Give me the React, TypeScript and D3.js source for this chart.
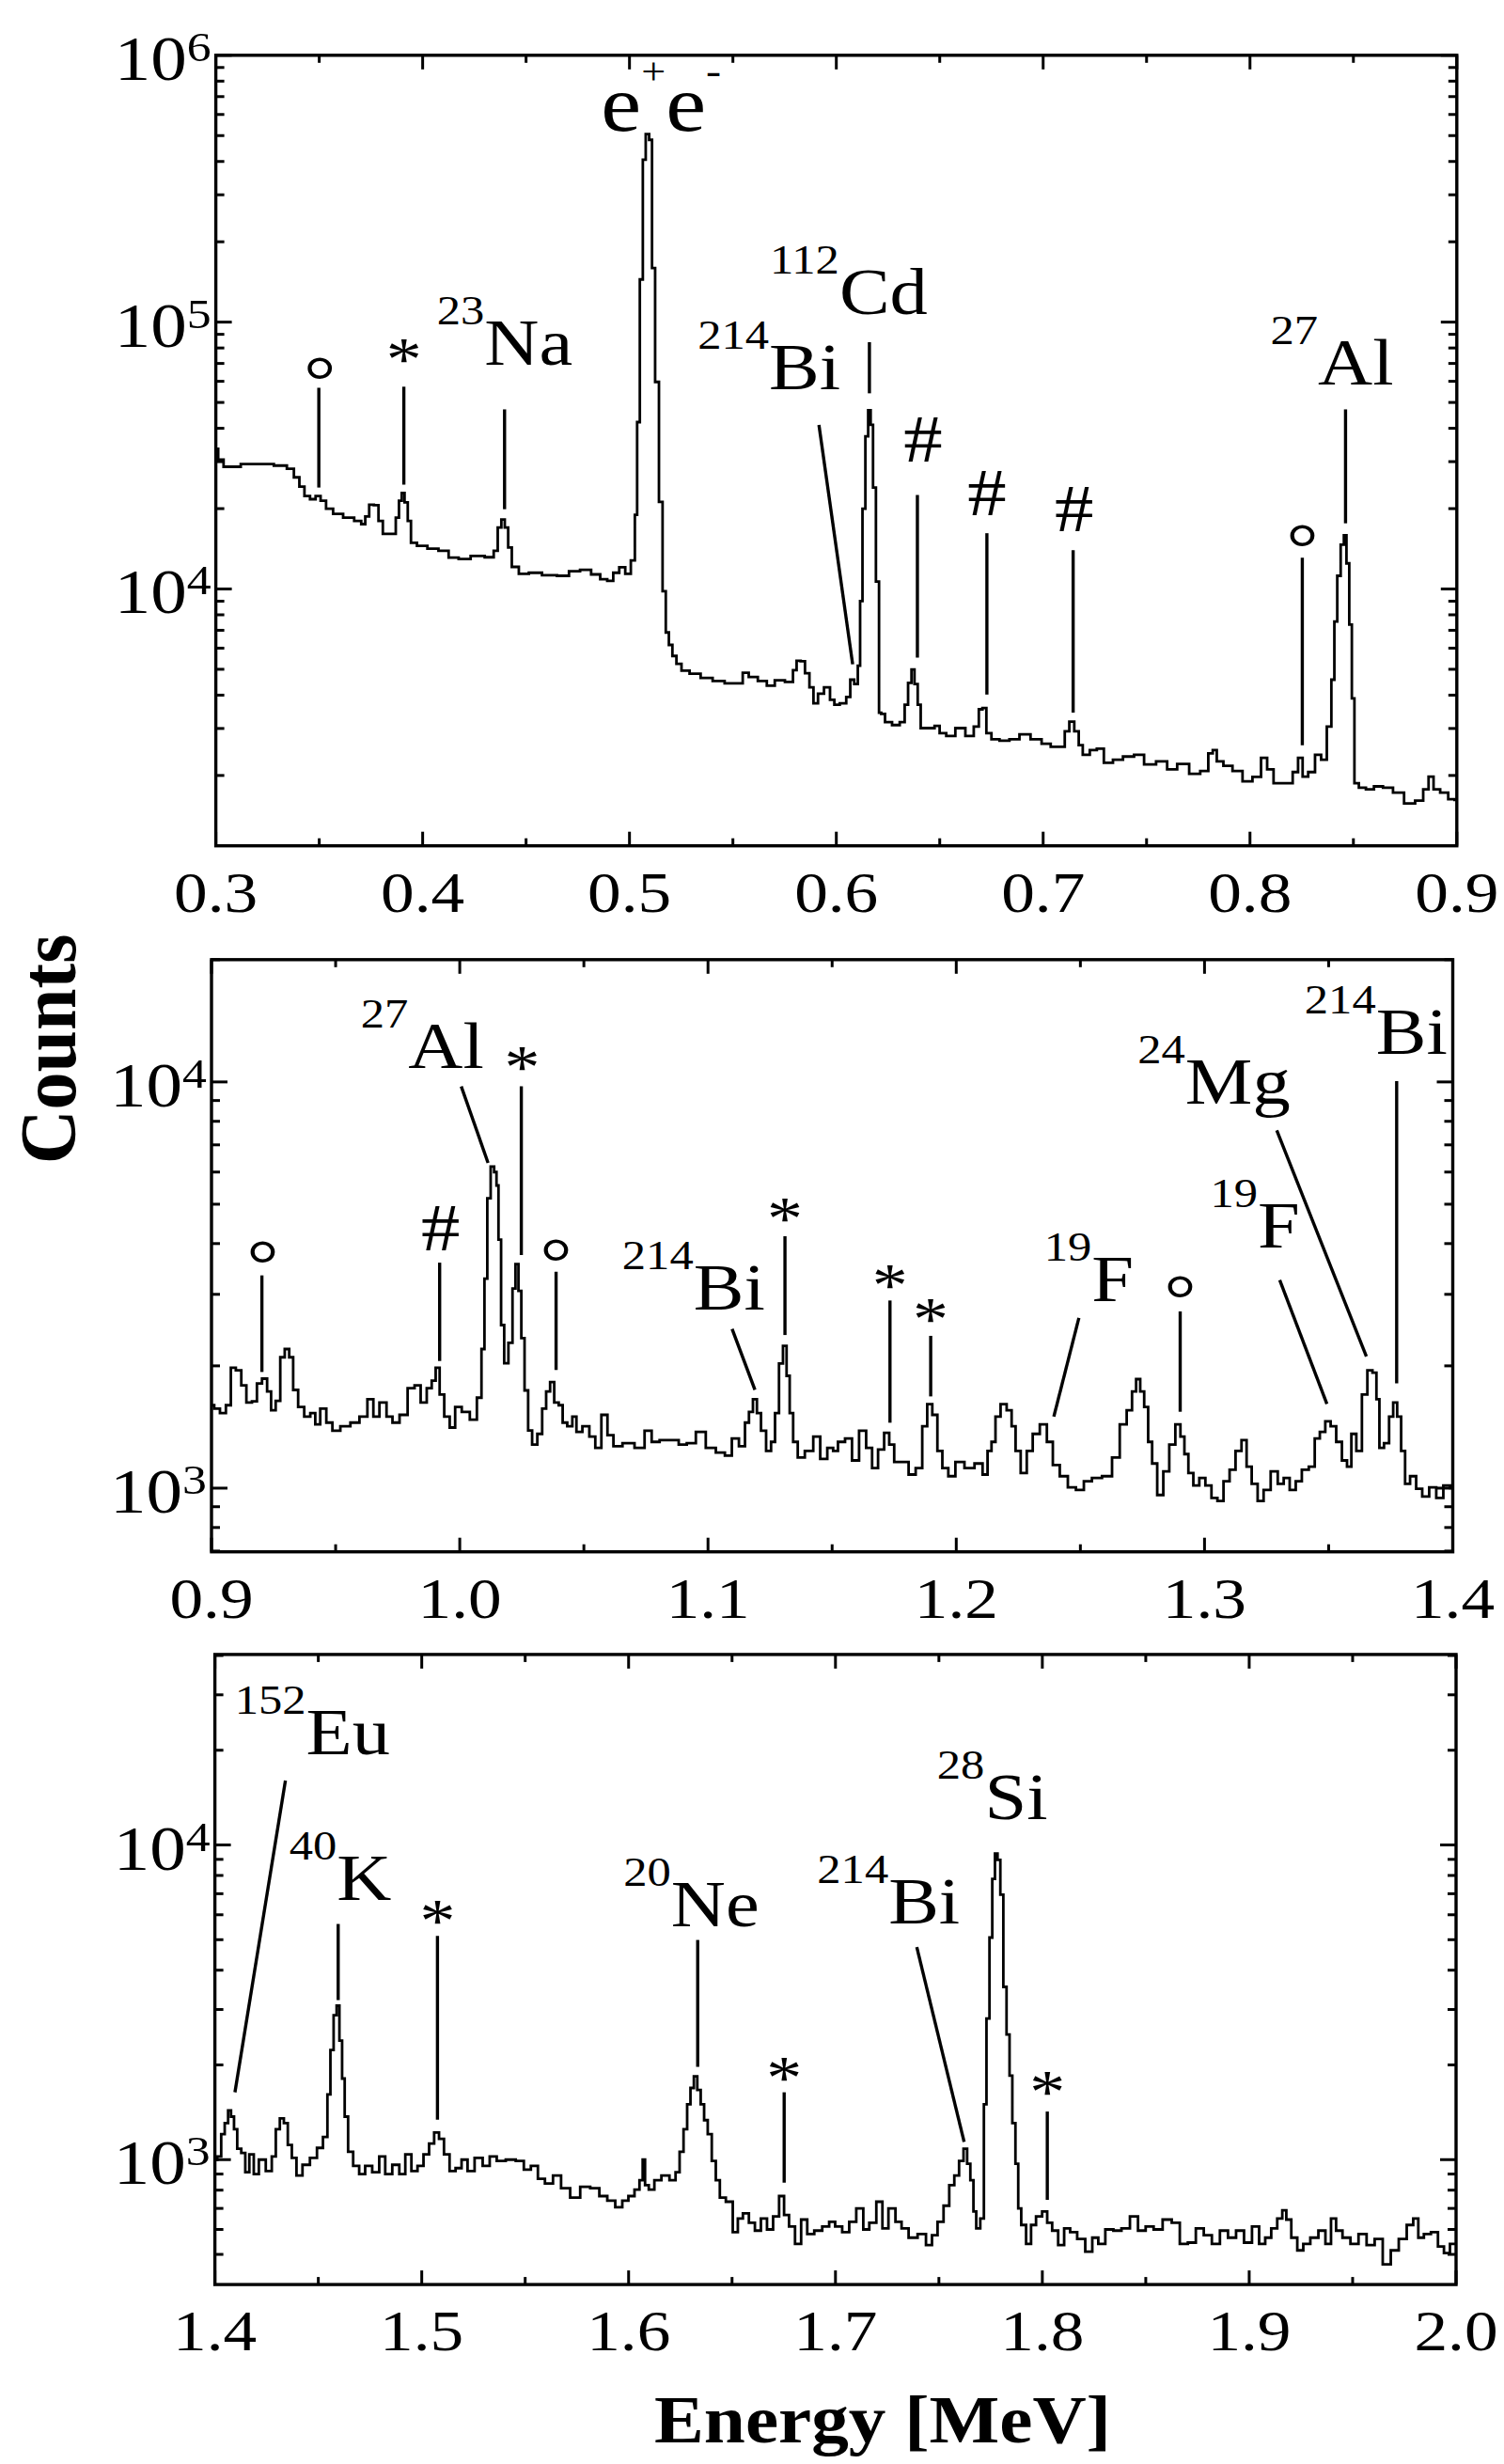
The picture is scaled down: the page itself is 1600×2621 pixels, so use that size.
import React from "react";
import * as d3 from "d3";

const FONT = "'Liberation Serif', 'Times New Roman', serif";
// the original figure is stretched horizontally a little
const SX = 1.15;

// ---------- panel 1 : 0.3 - 0.9 MeV ----------
const p1Energy = [
  0.3, 0.3023, 0.3052, 0.3101, 0.314, 0.3237, 0.3324, 0.3363, 0.3392, 0.3416, 0.3441, 0.347, 0.3495,
  0.3518, 0.3548, 0.3586, 0.3645, 0.3693, 0.3713, 0.3732, 0.3751, 0.3777, 0.3796, 0.3819, 0.3862,
  0.3878, 0.3893, 0.3905, 0.392, 0.3936, 0.3951, 0.3994, 0.4052, 0.4101, 0.415, 0.4198, 0.4266,
  0.4334, 0.4353, 0.4373, 0.4388, 0.4406, 0.4421, 0.4441, 0.4489, 0.4538, 0.4616, 0.4683, 0.4732,
  0.479, 0.4839, 0.4878, 0.4907, 0.4936, 0.4965, 0.4994, 0.5019, 0.5033, 0.5041, 0.5059, 0.507,
  0.5087, 0.5103, 0.5115, 0.5133, 0.5152, 0.5168, 0.5183, 0.5198, 0.5217, 0.5237, 0.5266, 0.5315,
  0.5373, 0.5431, 0.5489, 0.5538, 0.5557, 0.5596, 0.5645, 0.5683, 0.5722, 0.5781, 0.58, 0.5816,
  0.5839, 0.5858, 0.5882, 0.5897, 0.5926, 0.5955, 0.5984, 0.5997, 0.6036, 0.606, 0.6075, 0.6098,
  0.611, 0.612, 0.6133, 0.6148, 0.616, 0.6172, 0.6183, 0.62, 0.6213, 0.6221, 0.625, 0.6289, 0.6324,
  0.6337, 0.6357, 0.637, 0.6386, 0.6401, 0.6415, 0.6463, 0.6487, 0.6512, 0.6551, 0.66, 0.6648,
  0.6681, 0.6697, 0.6716, 0.6735, 0.6765, 0.6813, 0.6861, 0.691, 0.6968, 0.7017, 0.7056, 0.7095,
  0.7114, 0.7139, 0.7162, 0.7182, 0.7201, 0.725, 0.7269, 0.7318, 0.7357, 0.7415, 0.7464, 0.7512,
  0.758, 0.7619, 0.7677, 0.7735, 0.7784, 0.7813, 0.7827, 0.7852, 0.7891, 0.794, 0.7988, 0.8036,
  0.8071, 0.8095, 0.8133, 0.8192, 0.8221, 0.8244, 0.8265, 0.8298, 0.8331, 0.8357, 0.8386, 0.8401,
  0.8415, 0.8429, 0.8448, 0.846, 0.8473, 0.8487, 0.8498, 0.8512, 0.8541, 0.858, 0.8619, 0.8667,
  0.8716, 0.8774, 0.8823, 0.8852, 0.8875, 0.89, 0.8939, 0.8978, 0.9,
];
const p1Counts = [
  33500, 30500, 28700, 28700, 29400, 29400, 29000, 28200, 26200, 24200, 22300, 21700, 22300,
  21400, 20000, 19100, 18500, 18000, 17500, 18700, 20700, 20600, 18000, 16100, 16100,
  18500, 21400, 22900, 21100, 18000, 14900, 14500, 14150, 13900, 13100, 12950, 13300,
  13150, 13900, 17000, 18200, 17000, 14300, 12100, 11400, 11500, 11250, 11200, 11650,
  11800, 11340, 10880, 10730, 11500, 12060, 11400, 12800, 18950, 42200, 144500, 406000,
  507000, 482000, 159500, 59700, 21200, 9800, 6870, 6170, 5610, 5240, 4940, 4810,
  4640, 4520, 4430, 4430, 4850, 4680, 4520, 4340, 4550, 4480, 4960, 5380,
  5360, 4830, 4280, 3730, 4050, 4280, 3840, 3680, 3730, 3940, 4570, 4400,
  5160, 9000, 20000, 37300, 46700, 41200, 24000, 10660, 3440, 3400, 3170, 3090, 3170,
  3680, 4450, 4990, 4400, 3680, 3010, 3010, 3070, 2880, 2810, 3010, 2810,
  3050, 3540, 3580, 2880, 2735, 2700, 2735, 2850, 2735, 2630, 2560, 2560,
  2930, 3180, 2930, 2600, 2390, 2490, 2520, 2230, 2290, 2355, 2390, 2200,
  2260, 2110, 2210, 2030, 2080, 2420, 2490, 2260, 2175, 2080, 1900, 1975,
  2330, 2110, 1870, 1870, 2060, 2330, 1980, 2060, 2390, 2290, 3050, 4570,
  7550, 11200, 14650, 15900, 12470, 7350, 3890, 1870, 1800, 1775, 1820, 1800,
  1725, 1570, 1610, 1775, 1980, 1775, 1725, 1630, 1620,
];

// ---------- panel 2 : 0.9 - 1.4 MeV ----------
const p2Energy = [
  0.9, 0.9022, 0.9046, 0.907, 0.9086, 0.911, 0.913, 0.9151, 0.9175, 0.9191, 0.9216, 0.9232, 0.9248,
  0.9269, 0.9285, 0.9305, 0.9321, 0.9337, 0.9361, 0.9386, 0.941, 0.9426, 0.945, 0.9475, 0.9499,
  0.9539, 0.958, 0.9612, 0.9644, 0.966, 0.9693, 0.9717, 0.9741, 0.9774, 0.9806, 0.983, 0.9855,
  0.9879, 0.9895, 0.9911, 0.9927, 0.9948, 0.9971, 0.9992, 1.0024, 1.0057, 1.0081, 1.0094, 1.0105,
  1.0117, 1.0132, 1.0145, 1.0151, 1.0161, 1.0172, 1.0186, 1.0206, 1.0219, 1.023, 1.0243, 1.0253,
  1.0269, 1.0282, 1.0301, 1.0324, 1.034, 1.0356, 1.0372, 1.0389, 1.0408, 1.0421, 1.0445, 1.0462,
  1.0478, 1.051, 1.0534, 1.0558, 1.0583, 1.0607, 1.0631, 1.068, 1.0728, 1.0761, 1.0785, 1.0825,
  1.0866, 1.0898, 1.0931, 1.0971, 1.1011, 1.1052, 1.1084, 1.1108, 1.1141, 1.1157, 1.1173, 1.1189,
  1.1205, 1.1222, 1.1246, 1.1262, 1.1278, 1.1294, 1.131, 1.1323, 1.1335, 1.1351, 1.1372, 1.1408,
  1.144, 1.1464, 1.1497, 1.1511, 1.1536, 1.1568, 1.1592, 1.1625, 1.1649, 1.1673, 1.1697, 1.1722,
  1.1738, 1.1762, 1.1794, 1.1822, 1.1851, 1.1875, 1.1891, 1.1916, 1.1932, 1.1956, 1.198, 1.2013,
  1.2053, 1.2094, 1.2118, 1.2134, 1.215, 1.2166, 1.2191, 1.2215, 1.2231, 1.2247, 1.2272, 1.2296,
  1.232, 1.2353, 1.2377, 1.2401, 1.2433, 1.2466, 1.2498, 1.253, 1.2563, 1.2611, 1.2644, 1.2673,
  1.27, 1.2716, 1.2733, 1.2749, 1.2765, 1.2781, 1.2797, 1.2822, 1.2846, 1.287, 1.2895, 1.2911,
  1.2927, 1.2943, 1.2967, 1.2991, 1.3016, 1.304, 1.3064, 1.3089, 1.3113, 1.3137, 1.3161, 1.3178,
  1.3202, 1.3226, 1.325, 1.3283, 1.3307, 1.3331, 1.3355, 1.338, 1.3404, 1.3436, 1.3452, 1.3477,
  1.3496, 1.352, 1.3541, 1.3566, 1.3582, 1.3601, 1.3622, 1.3646, 1.3666, 1.3687, 1.3698, 1.3711,
  1.3735, 1.3752, 1.3768, 1.3784, 1.38, 1.3816, 1.384, 1.3865, 1.3889, 1.3921, 1.3946, 1.3978, 1.4,
];
const p2Counts = [
  1600, 1570, 1530, 1600, 1980, 1950, 1790, 1625, 1635, 1810, 1860, 1730, 1555,
  1640, 2100, 2200, 2100, 1745, 1585, 1500, 1530, 1435, 1570, 1450, 1385,
  1420, 1450, 1500, 1655, 1500, 1625, 1500, 1450, 1515, 1762, 1790, 1625,
  1762, 1840, 1980, 1700, 1500, 1410, 1585, 1540, 1475, 1670, 2200, 3280,
  5170, 6190, 6000, 5560, 4090, 2520, 2030, 2280, 3100, 3560, 3060, 2340,
  1740, 1386, 1280, 1360, 1570, 1730, 1825, 1625, 1600, 1450, 1420, 1500,
  1375, 1420, 1340, 1256, 1515, 1350, 1268, 1290, 1256, 1385, 1300, 1313,
  1313, 1280, 1290, 1375, 1256, 1224, 1202, 1325, 1268, 1450, 1540, 1655,
  1530, 1385, 1235, 1300, 1530, 2027, 2240, 1890, 1530, 1300, 1190, 1235,
  1340, 1180, 1256, 1235, 1300, 1325, 1170, 1385, 1256, 1120, 1245, 1368,
  1280, 1160, 1160, 1080, 1120, 1420, 1610, 1515, 1235, 1120, 1070, 1160,
  1120, 1150, 1080, 1235, 1300, 1500, 1610, 1555, 1420, 1235, 1090, 1235,
  1360, 1435, 1300, 1140, 1070, 1005, 990, 1040, 1060, 1070, 1190, 1435,
  1555, 1730, 1855, 1730, 1585, 1300, 1150, 962, 1100, 1280, 1435, 1340,
  1213, 1090, 1015, 1060, 1015, 946, 930, 1040, 1110, 1235, 1313, 1130,
  1025, 930, 990, 1100, 1025, 1060, 990, 1040, 1110, 1130, 1325, 1375,
  1460, 1420, 1300, 1170, 1130, 1360, 1235, 1700, 1950, 1925, 1655, 1256,
  1290, 1500, 1625, 1500, 1235, 1025, 1070, 997, 954, 1005, 946, 1015, 1000,
];

// ---------- panel 3 : 1.4 - 2.0 MeV ----------
const p3Energy = [
  1.4, 1.4023, 1.4038, 1.4057, 1.4071, 1.4085, 1.41, 1.4116, 1.4139, 1.4155, 1.4178, 1.4198, 1.4227,
  1.4265, 1.4285, 1.4304, 1.4324, 1.4343, 1.4362, 1.4382, 1.4407, 1.444, 1.4479, 1.4508, 1.4537,
  1.4551, 1.4566, 1.4582, 1.4595, 1.4609, 1.4621, 1.4634, 1.4654, 1.4683, 1.4712, 1.4741, 1.478,
  1.4809, 1.4838, 1.4877, 1.4906, 1.4935, 1.4965, 1.4994, 1.5023, 1.5048, 1.5072, 1.5095, 1.512,
  1.5149, 1.5178, 1.5207, 1.5236, 1.5275, 1.5314, 1.5343, 1.5382, 1.543, 1.5479, 1.5508, 1.5547,
  1.5576, 1.5615, 1.5654, 1.5693, 1.5742, 1.579, 1.5839, 1.5878, 1.5916, 1.5955, 1.5984, 1.6014,
  1.6043, 1.6062, 1.6074, 1.6085, 1.611, 1.6139, 1.6178, 1.6217, 1.6237, 1.6256, 1.6275, 1.6291,
  1.6307, 1.6324, 1.634, 1.6357, 1.6373, 1.6392, 1.6412, 1.6431, 1.6451, 1.6489, 1.6518, 1.6538,
  1.6567, 1.6596, 1.6625, 1.6654, 1.6684, 1.6713, 1.6742, 1.6761, 1.679, 1.6819, 1.6849, 1.6878,
  1.6917, 1.6955, 1.6984, 1.7013, 1.7052, 1.7081, 1.712, 1.7149, 1.7178, 1.7217, 1.7237, 1.7275,
  1.7305, 1.7334, 1.7373, 1.7421, 1.7454, 1.7479, 1.7508, 1.7537, 1.7563, 1.7586, 1.7609, 1.7629,
  1.7644, 1.766, 1.7674, 1.7687, 1.7713, 1.7722, 1.7738, 1.7751, 1.7765, 1.7777, 1.779, 1.7804,
  1.7819, 1.7835, 1.7848, 1.7862, 1.7878, 1.7889, 1.7907, 1.7936, 1.7955, 1.7984, 1.8014, 1.8033,
  1.8062, 1.8091, 1.812, 1.8149, 1.8188, 1.8227, 1.8256, 1.8285, 1.8324, 1.8363, 1.8402, 1.8445,
  1.848, 1.8519, 1.8557, 1.8606, 1.8645, 1.8684, 1.8723, 1.8761, 1.88, 1.8839, 1.8878, 1.8917,
  1.8956, 1.8994, 1.9033, 1.9063, 1.9092, 1.9121, 1.915, 1.917, 1.9189, 1.9218, 1.9247, 1.9276,
  1.9315, 1.9354, 1.9383, 1.9408, 1.9432, 1.947, 1.9509, 1.9548, 1.9587, 1.9626, 1.9665, 1.9704,
  1.9742, 1.9781, 1.9805, 1.983, 1.9859, 1.9898, 1.9927, 1.9956, 1.9985, 2.0,
];
const p3Counts = [
  1000, 1024, 1205, 1306, 1433, 1370, 1250, 1084, 1050, 912, 1040, 900, 1000,
  920, 1024, 1250, 1353, 1306, 1113, 1013, 890, 963, 1013, 1090, 1180,
  1611, 2230, 2877, 3085, 2390, 1810, 1370, 1060, 955, 900, 955, 912,
  1024, 900, 963, 900, 1040, 920, 955, 1040, 1125, 1220, 1165, 1040,
  920, 940, 1000, 920, 1013, 955, 1024, 990, 1000, 990, 930, 955,
  869, 840, 890, 812, 758, 820, 812, 766, 741, 706, 741, 766,
  803, 860, 1000, 830, 803, 860, 890, 860, 912, 1060, 1250, 1500,
  1690, 1840, 1665, 1500, 1335, 1205, 990, 860, 758, 735, 588, 650,
  675, 630, 595, 650, 600, 660, 766, 667, 613, 540, 645, 580,
  595, 613, 635, 613, 588, 635, 700, 600, 630, 735, 605, 700,
  635, 605, 565, 580, 535, 575, 635, 714, 830, 890, 990, 1084,
  970, 860, 684, 605, 650, 1500, 2810, 5080, 7800, 9390, 8970, 6950,
  3540, 2500, 1850, 1306, 970, 700, 620, 540, 620, 660, 684, 630,
  595, 535, 605, 588, 560, 510, 565, 540, 600, 595, 605, 660,
  595, 613, 600, 645, 630, 540, 545, 605, 575, 540, 595, 565,
  595, 545, 613, 540, 565, 605, 650, 690, 645, 565, 515, 540,
  565, 595, 540, 650, 595, 565, 540, 580, 535, 560, 465, 515,
  560, 620, 650, 565, 580, 588, 530, 505, 540, 540,
];

// tick labels
const p1XLabels = ["0.3", "0.4", "0.5", "0.6", "0.7", "0.8", "0.9"];
const p2XLabels = ["0.9", "1.0", "1.1", "1.2", "1.3", "1.4"];
const p3XLabels = ["1.4", "1.5", "1.6", "1.7", "1.8", "1.9", "2.0"];
const p1Decades = [4, 5, 6];
const p2Decades = [3, 4];
const p3Decades = [3, 4];

// annotations: line = [E top, counts top, E bottom, counts bottom]; label offset from line top (px)
type Ann = {
  kind: "iso" | "sym" | "pair";
  text: string;
  mass?: string;
  line?: [number, number, number, number];
  at?: [number, number];
  dx: number;
  dy: number;
};

const p1Notes: Ann[] = [
  { kind: "sym", text: "°", line: [0.3498, 56750, 0.3498, 23990], dx: 1, dy: -22 },
  { kind: "sym", text: "*", line: [0.3909, 57280, 0.3909, 24600], dx: 0, dy: -38 },
  { kind: "iso", mass: "23", text: "Na", line: [0.4396, 47100, 0.4396, 19900], dx: -72, dy: -47 },
  { kind: "pair", text: "e", at: [0.511, 507000], dx: -54.5, dy: -4 },
  { kind: "iso", mass: "214", text: "Bi", line: [0.5916, 41200, 0.6079, 5220], dx: -129, dy: -38 },
  { kind: "iso", mass: "112", text: "Cd", line: [0.616, 84100, 0.616, 54100], dx: -106, dy: -30 },
  { kind: "sym", text: "#", line: [0.6392, 22500, 0.6392, 5530], dx: 6, dy: -59 },
  { kind: "sym", text: "#", line: [0.6728, 16180, 0.6728, 4020], dx: 0, dy: -43 },
  { kind: "sym", text: "#", line: [0.7145, 13960, 0.7145, 3440], dx: 1, dy: -44 },
  { kind: "sym", text: "°", line: [0.8253, 13090, 0.8253, 2595], dx: 0, dy: -25 },
  { kind: "iso", mass: "27", text: "Al", line: [0.8462, 47100, 0.8462, 17620], dx: -80, dy: -26 },
];

const p2Notes: Ann[] = [
  { kind: "sym", text: "°", line: [0.9203, 3340, 0.9203, 1932], dx: 1, dy: -27 },
  { kind: "sym", text: "#", line: [0.9919, 3590, 0.9919, 2056], dx: 1, dy: -37 },
  { kind: "iso", mass: "27", text: "Al", line: [1.0006, 9750, 1.0114, 6320], dx: -107, dy: -20 },
  { kind: "sym", text: "*", line: [1.0248, 9750, 1.0248, 3750], dx: 1, dy: -29 },
  { kind: "sym", text: "°", line: [1.0388, 3410, 1.0388, 1954], dx: 0, dy: -25 },
  { kind: "iso", mass: "214", text: "Bi", line: [1.1097, 2466, 1.1189, 1746], dx: -117, dy: -21 },
  { kind: "sym", text: "*", line: [1.131, 4170, 1.131, 2382], dx: 0, dy: -27 },
  { kind: "sym", text: "*", line: [1.1733, 2897, 1.1733, 1449], dx: 0, dy: -25 },
  { kind: "sym", text: "*", line: [1.1897, 2371, 1.1897, 1682], dx: 0, dy: -26 },
  { kind: "iso", mass: "19", text: "F", line: [1.2494, 2624, 1.2393, 1500], dx: -37, dy: -18 },
  { kind: "sym", text: "°", line: [1.2902, 2723, 1.2902, 1542], dx: 0, dy: -28 },
  { kind: "iso", mass: "19", text: "F", line: [1.3303, 3251, 1.3493, 1611], dx: -74, dy: -35 },
  { kind: "iso", mass: "24", text: "Mg", line: [1.3291, 7600, 1.3652, 2109], dx: -148, dy: -28 },
  { kind: "iso", mass: "214", text: "Bi", line: [1.3774, 10050, 1.3774, 1811], dx: -98, dy: -29 },
];

const p3Notes: Ann[] = [
  { kind: "iso", mass: "152", text: "Eu", line: [1.4341, 16030, 1.4097, 1637], dx: -54, dy: -28 },
  { kind: "iso", mass: "40", text: "K", line: [1.4596, 5610, 1.4596, 3214], dx: -52, dy: -26 },
  { kind: "sym", text: "*", line: [1.5076, 5140, 1.5076, 1340], dx: 0, dy: -25 },
  { kind: "iso", mass: "20", text: "Ne", line: [1.6334, 4990, 1.6334, 1972], dx: -79, dy: -15 },
  { kind: "sym", text: "*", line: [1.6752, 1637, 1.6752, 845], dx: 0, dy: -24 },
  { kind: "iso", mass: "214", text: "Bi", line: [1.7393, 4740, 1.7622, 1138], dx: -106, dy: -25 },
  { kind: "iso", mass: "28", text: "Si", at: [1.7777, 9390], dx: -63, dy: -37 },
  { kind: "sym", text: "*", line: [1.8024, 1422, 1.8024, 745], dx: 0, dy: -29 },
];

const panels = [
  {
    id: "p1", energy: p1Energy, counts: p1Counts, xDomain: [0.3, 0.9], yDomain: [1090, 1e6],
    box: { left: 229.6, top: 58.8, right: 1549.8, bottom: 899.7 },
    xLabels: p1XLabels, decades: p1Decades, notes: p1Notes,
  },
  {
    id: "p2", energy: p2Energy, counts: p2Counts, xDomain: [0.9, 1.4], yDomain: [697, 20000],
    box: { left: 225, top: 1020.8, right: 1545.5, bottom: 1650.7 },
    xLabels: p2XLabels, decades: p2Decades, notes: p2Notes,
  },
  {
    id: "p3", energy: p3Energy, counts: p3Counts, xDomain: [1.4, 2.0], yDomain: [401, 40300],
    box: { left: 228.6, top: 1759.9, right: 1549, bottom: 2430.1 },
    xLabels: p3XLabels, decades: p3Decades, notes: p3Notes,
  },
];

const SYM_STYLE: Record<string, { size: number; k: number }> = {
  "*": { size: 66, k: 0.46 },
  "#": { size: 72, k: 0.33 },
  "°": { size: 74, k: 0.54 },
};

function Note({ a, x, y }: { a: Ann; x: any; y: any }) {
  let ax: number, ay: number;
  let lineEl = null;
  if (a.line) {
    const [e1, c1, e2, c2] = a.line;
    ax = x(e1);
    ay = y(c1);
    lineEl = (
      <line x1={x(e1)} y1={y(c1)} x2={x(e2)} y2={y(c2)} stroke="#000" strokeWidth={3.4} />
    );
  } else {
    ax = x(a.at![0]);
    ay = y(a.at![1]);
  }
  const lx = ax + a.dx;
  const ly = ay + a.dy;
  let label;
  if (a.kind === "sym") {
    const s = SYM_STYLE[a.text];
    label = (
      <text transform={`translate(${lx},${ly + s.k * s.size}) scale(${SX},1)`} fontSize={s.size} textAnchor="middle">
        {a.text}
      </text>
    );
  } else if (a.kind === "pair") {
    label = (
      <text transform={`translate(${lx},${ly}) scale(${SX},1)`} fontSize={84}>
        <tspan>e</tspan>
        <tspan fontSize={40} dy={-50}>+</tspan>
        <tspan fontSize={84} dy={50}>e</tspan>
        <tspan fontSize={42} dy={-50}>-</tspan>
      </text>
    );
  } else {
    label = (
      <text transform={`translate(${lx},${ly}) scale(${SX},1)`} fontSize={70}>
        <tspan fontSize={44} dy={-43}>{a.mass}</tspan>
        <tspan dy={43}>{a.text}</tspan>
      </text>
    );
  }
  return (
    <g>
      {lineEl}
      {label}
    </g>
  );
}

function Panel({ cfg }: { cfg: (typeof panels)[number] }) {
  const { left, top, right, bottom } = cfg.box;
  const x = d3.scaleLinear().domain(cfg.xDomain).range([left, right]);
  const y = d3.scaleLog().domain(cfg.yDomain).range([bottom, top]);

  const pts: [number, number][] = cfg.energy.map((e, i) => [e, cfg.counts[i]]);
  const path = d3
    .line<[number, number]>()
    .x((d) => x(d[0]))
    .y((d) => y(d[1]))
    .curve(d3.curveStep)(pts);

  // x ticks every 0.05, major every 0.1
  const [x0, x1] = cfg.xDomain;
  const nx = Math.round((x1 - x0) / 0.05);
  const xTicks = d3.range(nx + 1).map((i) => ({ v: x0 + i * 0.05, major: i % 2 === 0 }));

  // log ticks
  const yTicks: { v: number; major: boolean }[] = [];
  const [y0, y1] = cfg.yDomain;
  for (let k = Math.floor(Math.log10(y0)); k <= Math.ceil(Math.log10(y1)); k++) {
    for (let m = 1; m <= 9; m++) {
      const v = m * Math.pow(10, k);
      if (v >= y0 * 0.999 && v <= y1 * 1.001) yTicks.push({ v, major: m === 1 });
    }
  }
  const TM = 15;
  const Tm = 8;

  return (
    <g>
      <defs>
        <clipPath id={`clip-${cfg.id}`}>
          <rect x={left} y={top} width={right - left} height={bottom - top} />
        </clipPath>
      </defs>
      <path d={path ?? ""} fill="none" stroke="#000" strokeWidth={2.8} strokeLinejoin="miter" clipPath={`url(#clip-${cfg.id})`} />
      {xTicks.map((t, i) => {
        const px = x(t.v);
        const l = t.major ? TM : Tm;
        return (
          <g key={`xt${i}`} stroke="#000" strokeWidth={3}>
            <line x1={px} x2={px} y1={bottom} y2={bottom - l} />
            <line x1={px} x2={px} y1={top} y2={top + l} />
          </g>
        );
      })}
      {yTicks.map((t, i) => {
        const py = y(t.v);
        const l = t.major ? TM + 2 : Tm + 1;
        return (
          <g key={`yt${i}`} stroke="#000" strokeWidth={3}>
            <line x1={left} x2={left + l} y1={py} y2={py} />
            <line x1={right} x2={right - l} y1={py} y2={py} />
          </g>
        );
      })}
      <rect x={left} y={top} width={right - left} height={bottom - top} fill="none" stroke="#000" strokeWidth={3.4} />
      {cfg.xLabels.map((s) => (
        <text key={s} transform={`translate(${x(+s)},${bottom + 70}) scale(${SX},1)`} fontSize={62} textAnchor="middle">
          {s}
        </text>
      ))}
      {cfg.decades.map((k) => (
        <text key={k} transform={`translate(${left - 5},${y(Math.pow(10, k)) + 26}) scale(${SX},1)`} fontSize={67} textAnchor="end">
          10
          <tspan fontSize={45} dy={-20}>{k}</tspan>
        </text>
      ))}
      {cfg.notes.map((a, i) => (
        <Note key={i} a={a} x={x} y={y} />
      ))}
    </g>
  );
}

export default function App() {
  return (
    <svg
      width={1600}
      height={2621}
      viewBox="0 0 1600 2621"
      style={{ position: "absolute", left: 0, top: 0, background: "#fff" }}
      fontFamily={FONT}
    >
      <rect x={0} y={0} width={1600} height={2621} fill="#fff" />
      {panels.map((p) => (
        <Panel key={p.id} cfg={p} />
      ))}
      <text transform={`translate(80,1116) scale(1.05,1) rotate(-90)`} fontSize={80} fontWeight="bold" textAnchor="middle">
        Counts
      </text>
      <text transform={`translate(939,2598) scale(1.1,1)`} fontSize={72} fontWeight="bold" textAnchor="middle">
        Energy [MeV]
      </text>
    </svg>
  );
}
